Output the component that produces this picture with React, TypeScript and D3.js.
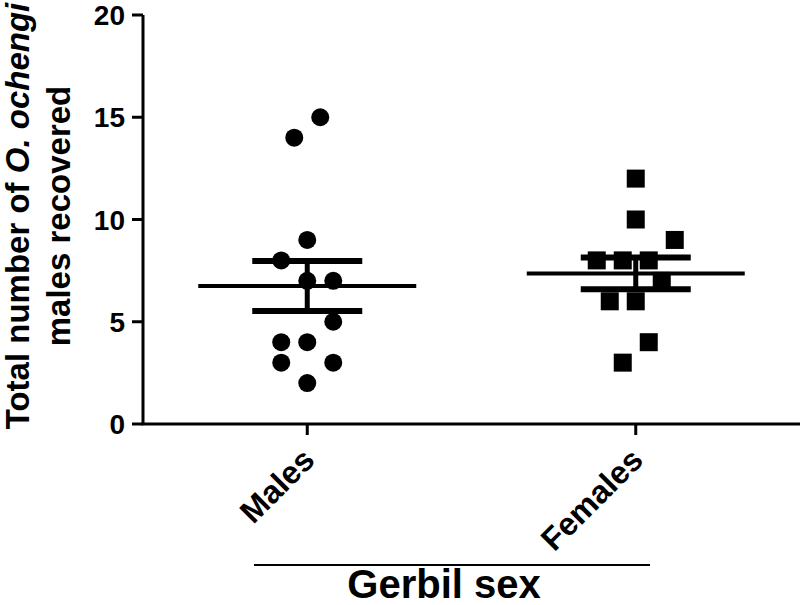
import React from 'react';
import * as d3 from 'd3';

// values, jitter slots are horizontal offsets in half-columns
const groups = ['Males', 'Females'];
const maleValues = [15, 14, 9, 8, 7, 7, 5, 4, 4, 3, 3, 2];
const maleSlots = [1, -1, 0, -2, 0, 2, 2, -2, 0, -2, 2, 0];
const femaleValues = [12, 10, 9, 8, 8, 8, 7, 6, 6, 4, 3];
const femaleSlots = [0, 0, 3, -3, -1, 1, 2, -2, 0, 1, -1];
const yTicks = [0, 5, 10, 15, 20];

const W = 800, H = 605;
const font = '"Liberation Sans", Arial, Helvetica, sans-serif';

function stats(v: number[]) {
  const mean = d3.mean(v) as number;
  const sem = (d3.deviation(v) as number) / Math.sqrt(v.length);
  return { mean, sem };
}

export default function App() {
  const x = d3.scalePoint().domain(groups).range([143, 800]).padding(0.5);
  const y = d3.scaleLinear().domain([0, 20]).range([424, 15]);
  const slot = 13;

  const series = [
    { name: 'Males', values: maleValues, slots: maleSlots, shape: 'circle' },
    { name: 'Females', values: femaleValues, slots: femaleSlots, shape: 'square' },
  ];

  return (
    <svg width={W} height={H} style={{ position: 'absolute', left: 0, top: 0 }} fontFamily={font}>
      <rect width={W} height={H} fill="#fff" />

      {/* y axis */}
      <line x1={143} x2={143} y1={y(20)} y2={y(0)} stroke="#000" strokeWidth={3} />
      {yTicks.map(t => (
        <g key={t}>
          <line x1={132} x2={143} y1={y(t)} y2={y(t)} stroke="#000" strokeWidth={3} />
          <text x={125} y={y(t)} dy="0.36em" textAnchor="end" fontSize={28} fontWeight="bold">{t}</text>
        </g>
      ))}

      {/* x axis */}
      <line x1={141.5} x2={800} y1={y(0)} y2={y(0)} stroke="#000" strokeWidth={3} />
      {groups.map(g => (
        <g key={g}>
          <line x1={x(g)} x2={x(g)} y1={y(0)} y2={y(0) + 11} stroke="#000" strokeWidth={3} />
          <text transform={`translate(${(x(g) as number) + 9},${y(0) + 38}) rotate(-45)`} textAnchor="end"
            fontSize={32} fontWeight="bold">{g}</text>
        </g>
      ))}

      {/* points */}
      {series.map(s => (
        <g key={s.name}>
          {s.values.map((v, i) => {
            const cx = (x(s.name) as number) + s.slots[i] * slot;
            return s.shape === 'circle'
              ? <circle key={i} cx={cx} cy={y(v)} r={9} fill="#000" />
              : <rect key={i} x={cx - 9} y={y(v) - 9} width={18} height={18} fill="#000" />;
          })}
        </g>
      ))}

      {/* mean and SEM */}
      {series.map(s => {
        const { mean, sem } = stats(s.values);
        const cx = x(s.name) as number;
        return (
          <g key={s.name} stroke="#000">
            <line x1={cx - 109} x2={cx + 109} y1={y(mean)} y2={y(mean)} strokeWidth={4} />
            <line x1={cx} x2={cx} y1={y(mean + sem)} y2={y(mean - sem)} strokeWidth={5} />
            <line x1={cx - 55} x2={cx + 55} y1={y(mean + sem)} y2={y(mean + sem)} strokeWidth={6} />
            <line x1={cx - 55} x2={cx + 55} y1={y(mean - sem)} y2={y(mean - sem)} strokeWidth={6} />
          </g>
        );
      })}

      {/* axis titles */}
      <line x1={254} x2={650} y1={565} y2={565} stroke="#000" strokeWidth={2} />
      <text x={444} y={598} textAnchor="middle" fontSize={40} fontWeight="bold">Gerbil sex</text>

      <text transform="translate(29,216) rotate(-90)" textAnchor="middle" fontSize={33} fontWeight="bold">
        Total number of <tspan fontStyle="italic">O. ochengi</tspan>
      </text>
      <text transform="translate(70,216) rotate(-90)" textAnchor="middle" fontSize={33} fontWeight="bold">
        males recovered
      </text>
    </svg>
  );
}
